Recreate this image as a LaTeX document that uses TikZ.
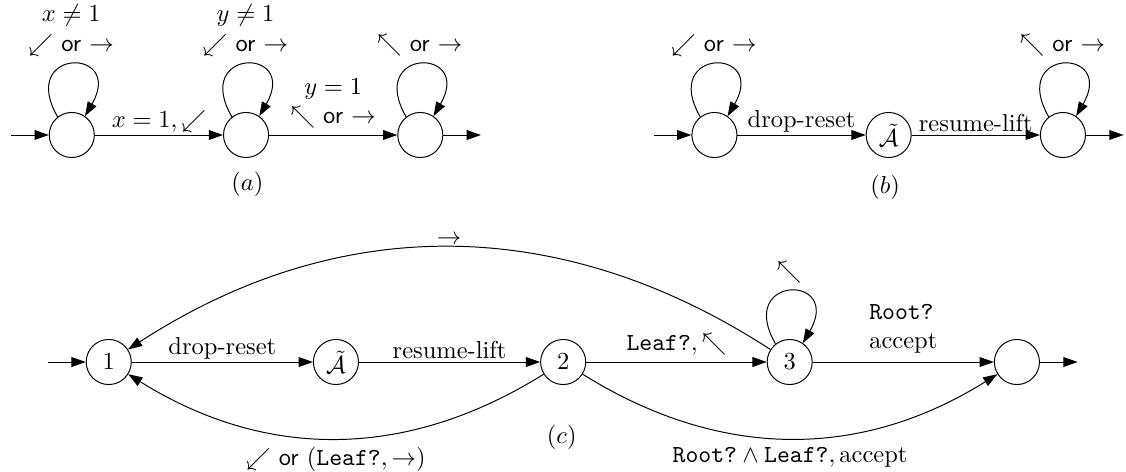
\documentclass[tikz,border=0pt]{standalone}
\usepackage{amsmath}
\usetikzlibrary{arrows.meta,positioning}

\tikzset{
  >={Triangle[length=5.8pt,width=4pt]},
  st/.style={draw,circle,minimum size=18.4pt,inner sep=0pt},
  lab/.style={inner sep=1pt},
  % self loop sitting on top of a state
  selfloop/.style={to path={(\tikztostart.128) .. controls +(120:1.15) and +(60:1.15) .. (\tikztostart.55) \tikztonodes}},
}
\newcommand{\orr}{\textsf{or}}

\begin{document}
\begin{tikzpicture}
\useasboundingbox (0,0) rectangle (16.155,6.772);

% (a)
\node[st] (a1) at (1.03,4.835) {};
\node[st] (a2) at (3.53,4.835) {};
\node[st] (a3) at (6.03,4.835) {};
\coordinate[left=0.54cm of a1.west] (a0);
\coordinate[right=0.54cm of a3.east] (a4);
\draw[->] (a0) -- (a1);
\draw[->] (a1) -- node[above,lab] {$x=1,\swarrow$} (a2);
\draw[->] (a2) -- node[above,lab,align=center,yshift=1.5pt] {$y=1$\\$\nwarrow$ \orr{} $\rightarrow$} (a3);
\draw[->] (a3) -- (a4);
\draw[->] (a1) to[selfloop] node[above,align=center] {$x\neq1$\\$\swarrow$ \orr{} $\rightarrow$} (a1);
\draw[->] (a2) to[selfloop] node[above,align=center] {$y\neq1$\\$\swarrow$ \orr{} $\rightarrow$} (a2);
\draw[->] (a3) to[selfloop] node[above] {$\nwarrow$ \orr{} $\rightarrow$} (a3);
\node at (3.55,4.12) {$(a)$};

% (b)
\node[st] (b1) at (10.25,4.835) {};
\node[st] (b2) at (12.75,4.835) {$\tilde{\mathcal{A}}$};
\node[st] (b3) at (15.25,4.835) {};
\coordinate[left=0.54cm of b1.west] (b0);
\coordinate[right=0.54cm of b3.east] (b4);
\draw[->] (b0) -- (b1);
\draw[->] (b1) -- node[above,lab] {drop-reset} (b2);
\draw[->] (b2) -- node[above,lab] {resume-lift} (b3);
\draw[->] (b3) -- (b4);
\draw[->] (b1) to[selfloop] node[above] {$\swarrow$ \orr{} $\rightarrow$} (b1);
\draw[->] (b3) to[selfloop] node[above] {$\nwarrow$ \orr{} $\rightarrow$} (b3);
\node at (12.70,4.08) {$(b)$};

% (c)
\node[st] (c1) at (1.56,1.578) {$1$};
\node[st] (cA) at (4.82,1.578) {$\tilde{\mathcal{A}}$};
\node[st] (c2) at (8.08,1.578) {$2$};
\node[st] (c3) at (11.33,1.578) {$3$};
\node[st] (c4) at (14.59,1.578) {};
\coordinate[left=0.54cm of c1.west] (c0);
\coordinate[right=0.54cm of c4.east] (c5);
\draw[->] (c0) -- (c1);
\draw[->] (c1) -- node[above,lab] {drop-reset} (cA);
\draw[->] (cA) -- node[above,lab] {resume-lift} (c2);
\draw[->] (c2) -- node[above,lab,yshift=1.5pt] {$\texttt{Leaf?},\nwarrow$} (c3);
\draw[->] (c3) -- node[above,align=left] {\texttt{Root?}\\accept} (c4);
\draw[->] (c4) -- (c5);
\draw[->] (c3) to[selfloop] node[above] {$\nwarrow$} (c3);
\draw[->] (c3) to[bend right=33] node[above,lab] {$\rightarrow$} (c1);
\draw[->] (c2) to[bend left=32] node[below] {$\swarrow$ \orr{} $(\texttt{Leaf?},\rightarrow)$} (c1);
\draw[->] (c2) to[bend right=32] node[below] {$\texttt{Root?}\wedge\texttt{Leaf?},\mbox{accept}$} (c4);
\node at (8.06,0.50) {$(c)$};
\end{tikzpicture}
\end{document}
